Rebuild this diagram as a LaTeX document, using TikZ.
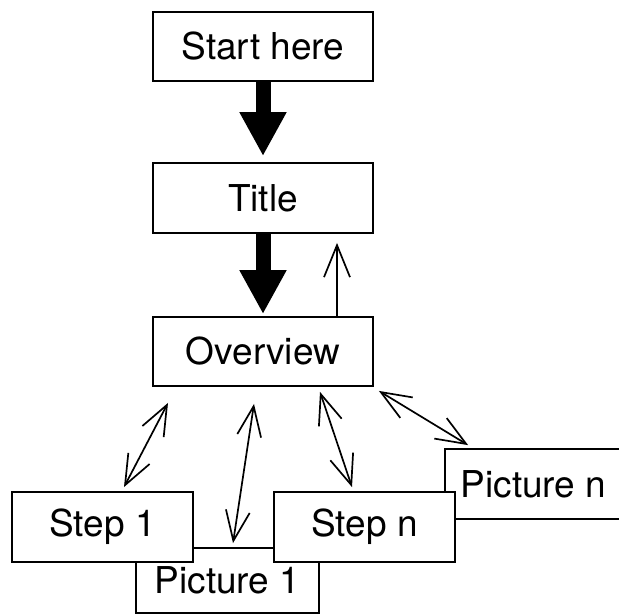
\documentclass[tikz,border=0pt]{standalone}
\usepackage{fontspec}
\setmainfont{TeX Gyre Heros}
\usetikzlibrary{arrows.meta}
\begin{document}
\begin{tikzpicture}[x=1pt,y=-1pt,
  box/.style={draw, line width=1.8pt, fill=white, inner sep=0pt,
    font=\fontsize{37}{40}\selectfont},
  bigarrow/.style={line width=15pt, -{Triangle[width=44pt,length=44pt]}},
  thinarrow/.style={line width=1.7pt, -{Straight Barb[length=32pt,width=26pt]}},
  dblarrow/.style={line width=1.7pt,
    {Straight Barb[length=30pt,width=24pt]}-{Straight Barb[length=30pt,width=24pt]}}]
\useasboundingbox (0,0) rectangle (619,616);

% main column
\node[box, minimum width=220pt, minimum height=69pt] (start) at (263,46.5) {Start here};
\node[box, minimum width=220pt, minimum height=70pt] (title) at (263,198) {Title};
\node[box, minimum width=220pt, minimum height=69pt] (overview) at (263,351.5) {Overview};

% pictures sit behind the steps
\node[box, minimum width=183pt, minimum height=65pt] (pic1) at (227.5,580.5) {Picture 1};
\node[box, minimum width=190pt, minimum height=70pt] (picn) at (540,484) {Picture n\kern13pt};
\node[box, minimum width=181pt, minimum height=70pt] (step1) at (102.5,527) {Step 1};
\node[box, minimum width=181pt, minimum height=70pt] (stepn) at (364.5,527) {Step n};

% connectors
\draw[bigarrow, shorten >=6pt] (start.south) -- (title.north);
\draw[bigarrow, shorten >=2pt] (title.south) -- (overview.north);
\draw[thinarrow] ([xshift=74pt]overview.north) -- ([shift={(74pt,-9pt)}]title.south);

\draw[dblarrow] ([shift={(-95pt,-16pt)}]overview.south) -- ([shift={(21.5pt,4pt)}]step1.north);
\draw[dblarrow] ([shift={(-9pt,-17pt)}]overview.south) -- ([shift={(5.5pt,4pt)}]pic1.north);
\draw[dblarrow] ([shift={(57pt,-5pt)}]overview.south) -- ([shift={(-12.5pt,4pt)}]stepn.north);
\draw[dblarrow] ([shift={(5pt,-4pt)}]overview.south east) -- ([shift={(24pt,3pt)}]picn.north west);
\end{tikzpicture}
\end{document}
